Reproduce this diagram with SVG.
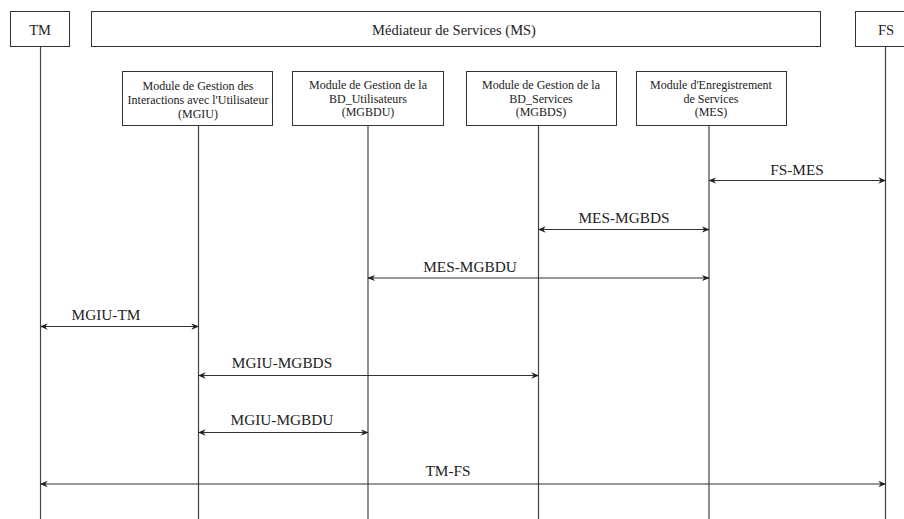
<svg xmlns="http://www.w3.org/2000/svg" width="904" height="519" viewBox="0 0 904 519">
<style>
.box{fill:#fff;stroke:#333;stroke-width:1}
.life{stroke:#444;stroke-width:1.2;fill:none}
text{font-family:'Liberation Serif','DejaVu Serif','Times New Roman',serif;fill:#222;text-anchor:middle}
.h{font-size:14.5px}
.m{font-size:12px}
.l{font-size:15.3px}
.c{stroke:#333;stroke-width:1.2;fill:none;marker-start:url(#a);marker-end:url(#a)}
</style>
<defs>
<marker id="a" viewBox="0 0 10 10" refX="9" refY="5" markerWidth="8" markerHeight="8" markerUnits="userSpaceOnUse" orient="auto-start-reverse">
<path d="M0,1 L10,5 L0,9 L3,5 Z" fill="#222"/>
</marker>
</defs>
<rect width="904" height="519" fill="#fff"/>
<g id="lifelines">
<line class="life" x1="40.5" y1="46" x2="40.5" y2="519"/>
<line class="life" x1="198.5" y1="125" x2="198.5" y2="519"/>
<line class="life" x1="368" y1="125" x2="368" y2="519"/>
<line class="life" x1="538.5" y1="125" x2="538.5" y2="519"/>
<line class="life" x1="709" y1="125" x2="709" y2="519"/>
<line class="life" x1="885.5" y1="46" x2="885.5" y2="519"/>
</g>
<g id="TM">
<rect class="box" x="10.5" y="11.5" width="59" height="35"/>
<text class="h" x="40" y="35">TM</text>
</g>
<g id="MS">
<rect class="box" x="91.5" y="11.5" width="729" height="35"/>
<text class="h" x="454" y="35">Médiateur de Services (MS)</text>
</g>
<g id="FS">
<rect class="box" x="855.5" y="11.5" width="60" height="35"/>
<text class="h" x="886" y="35">FS</text>
</g>
<g id="MGIU">
<rect class="box" x="122.5" y="71.5" width="150" height="54"/>
<text class="m" x="198" y="90">Module de Gestion des</text>
<text class="m" x="198" y="104">Interactions avec l'Utilisateur</text>
<text class="m" x="198" y="117.5">(MGIU)</text>
</g>
<g id="MGBDU">
<rect class="box" x="292.5" y="71.5" width="151" height="54"/>
<text class="m" x="368" y="89">Module de Gestion de la</text>
<text class="m" x="368" y="102.5">BD_Utilisateurs</text>
<text class="m" x="368" y="115.5">(MGBDU)</text>
</g>
<g id="MGBDS">
<rect class="box" x="466.5" y="71.5" width="150" height="54"/>
<text class="m" x="541" y="89">Module de Gestion de la</text>
<text class="m" x="541" y="102.5">BD_Services</text>
<text class="m" x="541" y="115.5">(MGBDS)</text>
</g>
<g id="MES">
<rect class="box" x="636.5" y="71.5" width="150" height="54"/>
<text class="m" x="711" y="89">Module d'Enregistrement</text>
<text class="m" x="711" y="102.5">de Services</text>
<text class="m" x="711" y="115.5">(MES)</text>
</g>
<g id="connectors">
<line class="c" x1="709" y1="180.5" x2="885.5" y2="180.5"/>
<text class="l" x="797" y="175">FS-MES</text>
<line class="c" x1="538.5" y1="229.5" x2="709" y2="229.5"/>
<text class="l" x="624" y="222.5">MES-MGBDS</text>
<line class="c" x1="368" y1="278" x2="709" y2="278"/>
<text class="l" x="470" y="271.5">MES-MGBDU</text>
<line class="c" x1="40.5" y1="326.5" x2="198.5" y2="326.5"/>
<text class="l" x="106" y="320">MGIU-TM</text>
<line class="c" x1="198.5" y1="375.5" x2="538.5" y2="375.5"/>
<text class="l" x="282" y="368">MGIU-MGBDS</text>
<line class="c" x1="198.5" y1="432.5" x2="368" y2="432.5"/>
<text class="l" x="282" y="425">MGIU-MGBDU</text>
<line class="c" x1="40.5" y1="484" x2="885.5" y2="484"/>
<text class="l" x="448" y="475.5">TM-FS</text>
</g>
</svg>
